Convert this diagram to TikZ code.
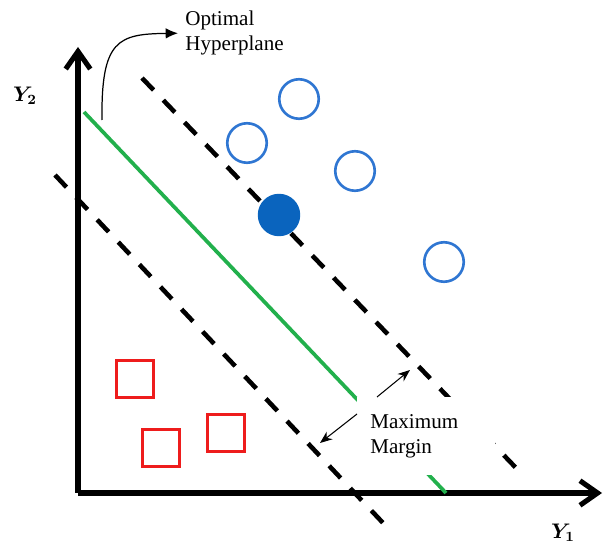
\documentclass[tikz,border=0pt]{standalone}
\usepackage{fontspec}
\usepackage{bm}
\setmainfont{Liberation Serif}
\usetikzlibrary{arrows.meta,positioning}

\definecolor{HyperColor}{HTML}{22B04C}
\definecolor{PosColor}{HTML}{2F76D2}
\definecolor{PosFill}{HTML}{0A64BE}
\definecolor{NegColor}{HTML}{EE1C1C}

\begin{document}
\begin{tikzpicture}[x=0.02cm,y=-0.02cm,
  axis/.style={line width=2.9pt,-{Straight Barb[length=10pt,width=14pt]}},
  axis label/.style={font=\large},
  margin line/.style={line width=2.6pt,dash pattern=on 9.5pt off 8pt},
  hyper line/.style={HyperColor,line width=2.1pt},
  pos point/.style={circle,draw=PosColor,line width=1.5pt,minimum size=0.79cm,inner sep=0pt},
  sup point/.style={circle,fill=PosFill,minimum size=0.85cm,inner sep=0pt},
  neg point/.style={rectangle,draw=NegColor,line width=1.8pt,minimum size=0.74cm,inner sep=0pt},
  label text/.style={font=\large,align=left},
  thin arrow/.style={line width=0.6pt,-{Stealth[length=7pt,width=5.5pt]}}
]

  \useasboundingbox (0,0) rectangle (613,544);

  %–– Ejes ––
  \coordinate (origin) at (78,493);
  \coordinate (ytip) at (78,47);
  \coordinate (xtip) at (602,493);
  \draw[axis] (origin) -- (ytip);
  \draw[axis] (origin) -- (xtip);

  \node[axis label] (ylab) at (25,96) {$\bm{Y_2}$};
  \node[axis label] (xlab) at (563,533) {$\bm{Y_1}$};

  %–– Márgenes e hiperplano ––
  \coordinate (up1) at (142,78);
  \coordinate (up2) at (518,470);
  \coordinate (lo1) at (55,175);
  \coordinate (lo2) at (384,524);
  \coordinate (hy1) at (84,112);
  \coordinate (hy2) at (446,493);

  \draw[margin line] (up1) -- (up2);
  \draw[margin line] (lo1) -- (lo2);
  \draw[hyper line] (hy1) -- (hy2);

  %–– Clase positiva ––
  \node[pos point] (c1) at (299,99) {};
  \node[pos point] (c2) at (247,143) {};
  \node[pos point] (c3) at (355,171) {};
  \node[pos point] (c4) at (444,262) {};
  \node[sup point] (sv) at (279,215) {};

  %–– Clase negativa ––
  \node[neg point] (s1) at (135,379) {};
  \node[neg point] (s2) at (161,448) {};
  \node[neg point] (s3) at (226,433) {};

  %–– Etiquetas ––
  \node[label text,anchor=north west,inner xsep=0.14cm,inner ysep=0pt]
    (opt) at (178,11) {Optimal\\Hyperplane};
  \coordinate (optstart) at (102,120);
  \draw[line width=0.7pt,-{Latex[length=7pt,width=6pt]}]
    (optstart) .. controls (101,40) and (118,34) .. (opt.west);

  \node[label text,anchor=north west,fill=white,text width=2.24cm,
        inner xsep=0.26cm,inner ysep=0pt,minimum height=1.56cm]
    (mm) at (357,397) {Maximum\\Margin};
  \coordinate (mtop) at (410,370);
  \coordinate (mbot) at (320,443);
  \draw[thin arrow] ([shift={(20,0)}]mm.north west) -- (mtop);
  \draw[thin arrow] ([shift={(0,17)}]mm.north west) -- (mbot);

\end{tikzpicture}
\end{document}
